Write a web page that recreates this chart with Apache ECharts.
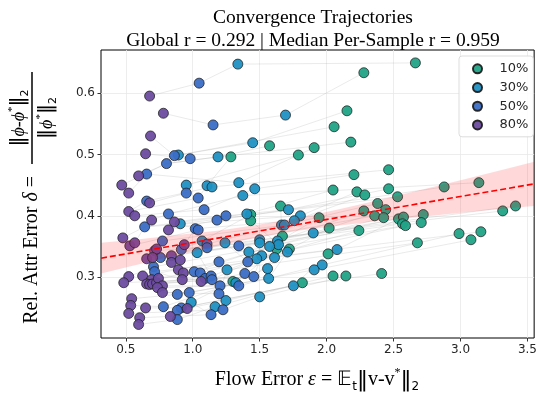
<!DOCTYPE html>
<html><head><meta charset="utf-8">
<script src="https://cdn.jsdelivr.net/npm/echarts@6/dist/echarts.min.js"></script>
<style>html,body{margin:0;padding:0;background:#fff}#c{width:540px;height:398px}</style>
</head><body><div id="c"></div>
<script>
// ---- data (flow error, relative attribution error) per masking level ----
const level10 = [[2.663,0.649],[2.278,0.633],[2.152,0.571],[2.056,0.545],[2.181,0.520],[1.907,0.511],[1.789,0.499],[1.574,0.514],[1.285,0.496],[2.463,0.475],[2.204,0.467],[2.048,0.442],[2.226,0.439],[2.285,0.434],[2.463,0.444],[2.530,0.431],[2.878,0.447],[3.137,0.454],[2.381,0.420],[2.278,0.408],[2.441,0.410],[2.359,0.400],[2.426,0.397],[2.537,0.395],[2.574,0.398],[2.722,0.402],[2.707,0.389],[2.567,0.387],[2.589,0.384],[3.315,0.408],[3.411,0.416],[2.989,0.371],[3.078,0.361],[3.152,0.374],[2.678,0.356],[1.944,0.397],[2.019,0.380],[2.241,0.376],[2.011,0.338],[2.048,0.302],[2.144,0.302],[2.411,0.306],[1.819,0.291],[1.656,0.416],[1.433,0.402],[1.433,0.392],[1.670,0.367],[1.626,0.346],[1.722,0.346],[1.300,0.293]];
const level30 = [[1.337,0.647],[1.693,0.564],[1.448,0.519],[1.189,0.496],[0.893,0.499],[0.952,0.450],[1.107,0.449],[1.144,0.447],[1.344,0.454],[1.374,0.433],[1.463,0.444],[1.404,0.403],[0.907,0.387],[1.070,0.359],[1.241,0.356],[1.419,0.341],[1.256,0.312],[1.033,0.340],[0.989,0.259],[1.167,0.252],[1.248,0.262],[1.715,0.410],[1.804,0.400],[1.759,0.392],[1.663,0.385],[1.685,0.385],[1.900,0.372],[1.500,0.361],[1.500,0.356],[1.633,0.359],[1.641,0.353],[1.574,0.350],[1.707,0.341],[1.515,0.335],[1.611,0.332],[1.478,0.330],[1.559,0.314],[1.967,0.320],[1.907,0.312],[1.567,0.298],[1.752,0.286],[1.500,0.268],[2.078,0.345],[1.322,0.291]];
const level50 = [[1.048,0.616],[1.152,0.548],[0.863,0.498],[0.981,0.493],[0.804,0.485],[0.656,0.468],[0.952,0.437],[1.041,0.429],[0.656,0.424],[0.819,0.403],[0.641,0.382],[0.774,0.359],[1.085,0.410],[1.181,0.393],[1.248,0.400],[1.019,0.379],[1.041,0.377],[1.107,0.354],[1.107,0.348],[1.344,0.351],[1.196,0.325],[1.411,0.325],[1.389,0.306],[0.915,0.345],[0.759,0.332],[0.707,0.317],[0.715,0.309],[1.011,0.309],[1.056,0.307],[1.093,0.298],[1.137,0.302],[1.144,0.296],[1.204,0.286],[1.344,0.286],[0.885,0.272],[0.974,0.275],[1.196,0.273],[0.781,0.252],[0.915,0.250],[0.885,0.246],[1.226,0.247],[1.137,0.239],[0.885,0.231],[1.456,0.301],[0.715,0.343]];
const level80 = [[0.678,0.595],[0.781,0.567],[0.685,0.530],[0.648,0.501],[0.596,0.465],[0.470,0.450],[0.522,0.437],[0.678,0.421],[0.522,0.407],[0.567,0.400],[0.693,0.393],[0.863,0.390],[0.819,0.377],[0.478,0.364],[0.530,0.351],[0.567,0.356],[0.730,0.346],[0.656,0.330],[0.700,0.332],[0.841,0.335],[0.841,0.324],[0.522,0.301],[0.626,0.302],[0.485,0.291],[0.693,0.296],[0.656,0.289],[0.678,0.288],[0.700,0.289],[0.730,0.291],[0.744,0.298],[0.774,0.286],[0.737,0.283],[0.774,0.275],[0.544,0.265],[0.537,0.254],[0.648,0.250],[0.522,0.241],[0.604,0.234],[0.596,0.223],[0.833,0.236],[0.937,0.353],[1.063,0.293],[0.959,0.249],[0.907,0.328],[0.893,0.312],[0.930,0.307],[0.922,0.296]];
const levelNames = ['10%','30%','50%','80%'];
const levelColors = ['#21a487','#1f91c3','#3b6ec6','#6d4ca0'];
// regression fit and its confidence band
const fitX = [0.315, 3.55];
const fitY = [0.331, 0.452];
const bandX  = [0.315,0.6,0.9,1.2,1.5,1.8,2.1,2.4,2.7,3.0,3.3,3.55];
const bandLo = [0.306,0.321,0.337,0.352,0.365,0.376,0.384,0.392,0.398,0.405,0.411,0.416];
const bandHi = [0.356,0.362,0.369,0.376,0.386,0.397,0.411,0.426,0.442,0.458,0.474,0.488];
const xTicks = [0.5,1.0,1.5,2.0,2.5,3.0,3.5];
const yTicks = [0.3,0.4,0.5,0.6];

// trajectories: connect levels by rank of attribution error
const levels = [level10, level30, level50, level80];
const sortedLv = levels.map(l => l.slice().sort((a,b)=>a[1]-b[1]));
const N = Math.max(...levels.map(l=>l.length));
const trajData = [];
for (let i=0;i<N;i++){
  sortedLv.forEach(l=>{ const r=Math.round(i*(l.length-1)/(N-1)); trajData.push(l[r]); });
  trajData.push(null);
}

const chart = echarts.init(document.getElementById('c'));
const tickFont = {fontFamily:'DejaVu Sans', fontSize:12, color:'#262626'};
const serif = 'Liberation Serif';
const series = [
  {type:'line', data:trajData, symbol:'none', connectNulls:false, silent:true,
   lineStyle:{color:'rgba(150,150,150,0.25)', width:0.8}, z:1, animation:false},
];
levels.forEach((l,k)=>series.push({
  name:levelNames[k], type:'scatter', data:l, symbolSize:10, z:2+k,
  itemStyle:{color:levelColors[k], borderColor:'#1e1e1e', borderWidth:0.8, opacity:0.95}
}));
series.push({
  type:'custom', z:7, silent:true, data:[0],
  renderItem:(params, api)=>{
    const pts=[];
    bandX.forEach((x,i)=>pts.push(api.coord([x,bandHi[i]])));
    for(let i=bandX.length-1;i>=0;i--) pts.push(api.coord([bandX[i],bandLo[i]]));
    return {type:'polygon', shape:{points:pts}, style:{fill:'rgba(255,0,0,0.15)'}};
  }
});
series.push({type:'line', data:fitX.map((x,i)=>[x,fitY[i]]), symbol:'none', z:8, silent:true,
  lineStyle:{color:'#ff0000', width:1.6, type:[6,3]}});

const fracRich = {
  n:{fontFamily:serif, fontSize:18, fill:'#000', lineHeight:24},
  b:{fontFamily:'DejaVu Sans', fontSize:20, fill:'#000', lineHeight:24},
  i:{fontFamily:serif, fontSize:18, fontStyle:'italic', fill:'#000', lineHeight:24},
  p:{fontFamily:serif, fontSize:11, fill:'#000', lineHeight:24, verticalAlign:'top'},
  s:{fontFamily:'DejaVu Sans', fontSize:11, fill:'#000', lineHeight:24, verticalAlign:'bottom', padding:[10,0,0,0]}
};

chart.setOption({
  animation:false,
  title:{text:'Convergence Trajectories\nGlobal r = 0.292 | Median Per-Sample r = 0.959',
    left:308, top:1, textAlign:'center',
    textStyle:{fontFamily:serif, fontSize:19.5, fontWeight:'normal', color:'#000', lineHeight:23}},
  grid:{left:101, right:1, top:50, bottom:60, show:true, borderColor:'#000', borderWidth:1, containLabel:false},
  legend:{data:levelNames, orient:'vertical', left:459, top:56, icon:'circle',
    itemWidth:34, itemHeight:9, itemGap:3, padding:[5,5,4,13],
    borderColor:'#d4d4d4', borderWidth:0.8, borderRadius:3, backgroundColor:'rgba(255,255,255,0.85)',
    textStyle:{fontFamily:'DejaVu Sans', fontSize:13, color:'#262626', lineHeight:15.7}},
  xAxis:{type:'value', min:0.315, max:3.55,
    axisLine:{show:false},
    axisTick:{show:true, length:3.5, lineStyle:{color:'#333'}, customValues:xTicks},
    axisLabel:{...tickFont, margin:6, customValues:xTicks, formatter:v=>v.toFixed(1)},
    splitLine:{show:true, lineStyle:{color:'#e8e8e8', width:0.8}}},
  yAxis:{type:'value', min:0.201, max:0.67,
    axisLine:{show:false},
    axisTick:{show:true, length:3.5, lineStyle:{color:'#333'}, customValues:yTicks},
    axisLabel:{...tickFont, margin:6, customValues:yTicks, formatter:v=>v.toFixed(1)},
    splitLine:{show:true, lineStyle:{color:'#e8e8e8', width:0.8}}},
  series:series,
  graphic:[
    {type:'text', x:317, y:380, style:{
      align:'center', verticalAlign:'middle',
      text:'{n|Flow Error }{i|ε}{n| = 𝔼}{s|t}{b|‖}{n|v-v}{p|*}{b|‖}{s|2}',
      rich:{n:{fontFamily:serif, fontSize:20, fill:'#000', lineHeight:26},
            b:{fontFamily:'DejaVu Sans', fontSize:22, fill:'#000', lineHeight:26},
            i:{fontFamily:serif, fontSize:20, fontStyle:'italic', fill:'#000', lineHeight:26},
            s:{fontFamily:'DejaVu Sans', fontSize:12, fill:'#000', lineHeight:26, verticalAlign:'bottom', padding:[11,0,0,0]},
            p:{fontFamily:serif, fontSize:12, fill:'#000', lineHeight:26, verticalAlign:'top'}}}},
    {type:'group', x:32, y:200, rotation:Math.PI/2, children:[
      {type:'text', style:{x:24, y:0, align:'right', verticalAlign:'middle',
        text:'{n|Rel. Attr Error }{i|δ}{n| =}',
        rich:{n:{fontFamily:serif, fontSize:20, fill:'#000'},
              i:{fontFamily:serif, fontSize:20, fontStyle:'italic', fill:'#000'}}}},
      {type:'line', shape:{x1:36, y1:0, x2:128, y2:0}, style:{stroke:'#000', lineWidth:1.5}},
      {type:'text', style:{x:82, y:-13, align:'center', verticalAlign:'middle',
        text:'{b|‖}{i|ϕ}{n|-}{i|ϕ}{p|*}{b|‖}{s|2}', rich:fracRich}},
      {type:'text', style:{x:82, y:15, align:'center', verticalAlign:'middle',
        text:'{b|‖}{i|ϕ}{p|*}{b|‖}{s|2}', rich:fracRich}}
    ]}
  ]
});
</script></body></html>
